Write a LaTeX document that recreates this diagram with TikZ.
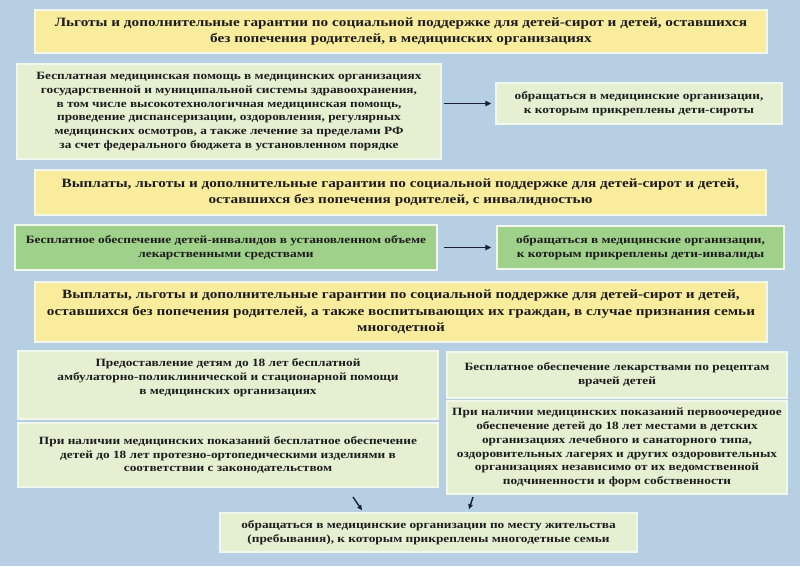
\documentclass[tikz,border=0pt]{standalone}
\usepackage{fontspec}
\setmainfont{Liberation Serif}[FakeStretch=1.2]
\usetikzlibrary{calc, positioning, arrows.meta}

\definecolor{bgblue}{HTML}{B6CFE3}
\definecolor{hdyellow}{HTML}{F9EC9C}
\definecolor{palegreen}{HTML}{E5F0D3}
\definecolor{midgreen}{HTML}{9FD18B}
\definecolor{edgewhite}{HTML}{F2F7EC}
\definecolor{inkdark}{HTML}{1C1C1C}
\definecolor{arrowink}{HTML}{17202E}

\tikzset{
    header/.style 2 args={fill=hdyellow, draw=edgewhite, line width=1.5pt,
        minimum width=#1, minimum height=#2, inner sep=0pt, align=center,
        text=inkdark, font=\bfseries\fontsize{12.7}{16.5}\selectfont},
    infobox/.style 2 args={fill=palegreen, draw=edgewhite, line width=1.5pt,
        minimum width=#1, minimum height=#2, inner sep=0pt, align=center,
        text=inkdark, font=\bfseries\fontsize{11.1}{13.8}\selectfont},
    flow/.style={draw=arrowink, line width=1.8pt, -{Triangle[length=6pt,width=5.5pt]}},
    smallflow/.style={draw=arrowink, line width=1.4pt, -{Triangle[length=5pt,width=4.5pt]}}
}

\begin{document}
\begin{tikzpicture}[x=1pt, y=-1pt]

    \fill[bgblue] (0,0) rectangle (800,566);
    \useasboundingbox (0,0) rectangle (800,566);

    % orphans in medical organisations
    \node[header={732pt}{43pt}] (t1) at (401,31.5)
        {Льготы и дополнительные гарантии по социальной поддержке для детей-сирот и детей, оставшихся\\
         без попечения родителей, в медицинских организациях};
    \node[infobox={424pt}{95pt}] (b1) at (229,111.5)
        {Бесплатная медицинская помощь в медицинских организациях\\
         государственной и муниципальной системы здравоохранения,\\
         в том числе высокотехнологичная медицинская помощь,\\
         проведение диспансеризации, оздоровления, регулярных\\
         медицинских осмотров, а также лечение за пределами РФ\\
         за счет федерального бюджета в установленном порядке};
    \node[infobox={286pt}{41pt}] (r1) at (639,103.5)
        {обращаться в медицинские организации,\\
         к которым прикреплены дети-сироты};

    % disabled children
    \node[header={731pt}{45pt}] (t2) at (400.5,192.5)
        {Выплаты, льготы и дополнительные гарантии по социальной поддержке для детей-сирот и детей,\\
         оставшихся без попечения родителей, с инвалидностью};
    \node[infobox={422pt}{45pt}, fill=midgreen] (b2) at (226,247.5)
        {Бесплатное обеспечение детей-инвалидов в установленном объеме\\
         лекарственными средствами};
    \node[infobox={287pt}{43pt}, fill=midgreen] (r2) at (640.5,247.5)
        {обращаться в медицинские организации,\\
         к которым прикреплены дети-инвалиды};

    % large families
    \node[header={732pt}{60pt}] (t3) at (401,312)
        {Выплаты, льготы и дополнительные гарантии по социальной поддержке для детей-сирот и детей,\\
         оставшихся без попечения родителей, а также воспитывающих их граждан, в случае признания семьи\\
         многодетной};
    \node[infobox={420pt}{68pt}, text depth=17pt] (b3a) at (228,385)
        {Предоставление детям до 18 лет бесплатной\\
         амбулаторно-поликлинической и стационарной помощи\\
         в медицинских организациях};
    \node[infobox={420pt}{64pt}] (b3b) at (228,455)
        {При наличии медицинских показаний бесплатное обеспечение\\
         детей до 18 лет протезно-ортопедическими изделиями в\\
         соответствии с законодательством};
    \node[infobox={340pt}{46pt}] (b3c) at (617,375)
        {Бесплатное обеспечение лекарствами по рецептам\\
         врачей детей};
    \node[infobox={340pt}{93pt}] (b3d) at (617,447.5)
        {При наличии медицинских показаний первоочередное\\
         обеспечение детей до 18 лет местами в детских\\
         организациях лечебного и санаторного типа,\\
         оздоровительных лагерях и других оздоровительных\\
         организациях независимо от их ведомственной\\
         подчиненности и форм собственности};
    \node[infobox={417pt}{39pt}] (bot) at (428.5,532.5)
        {обращаться в медицинские организации по месту жительства\\
         (пребывания), к которым прикреплены многодетные семьи};

    \draw[flow, shorten <=2pt, shorten >=4pt] (b1.east |- r1.west) -- (r1.west);
    \draw[flow, shorten <=6pt, shorten >=5pt] (b2.east) -- (r2.west);

    \coordinate (s1) at (353,497);
    \coordinate (s2) at (473,497);
    \draw[smallflow] (s1) -- ($(bot.north -| 362,0)+(0,-2)$);
    \draw[smallflow] (s2) -- ($(bot.north -| 469,0)+(0,-3)$);

\end{tikzpicture}
\end{document}
